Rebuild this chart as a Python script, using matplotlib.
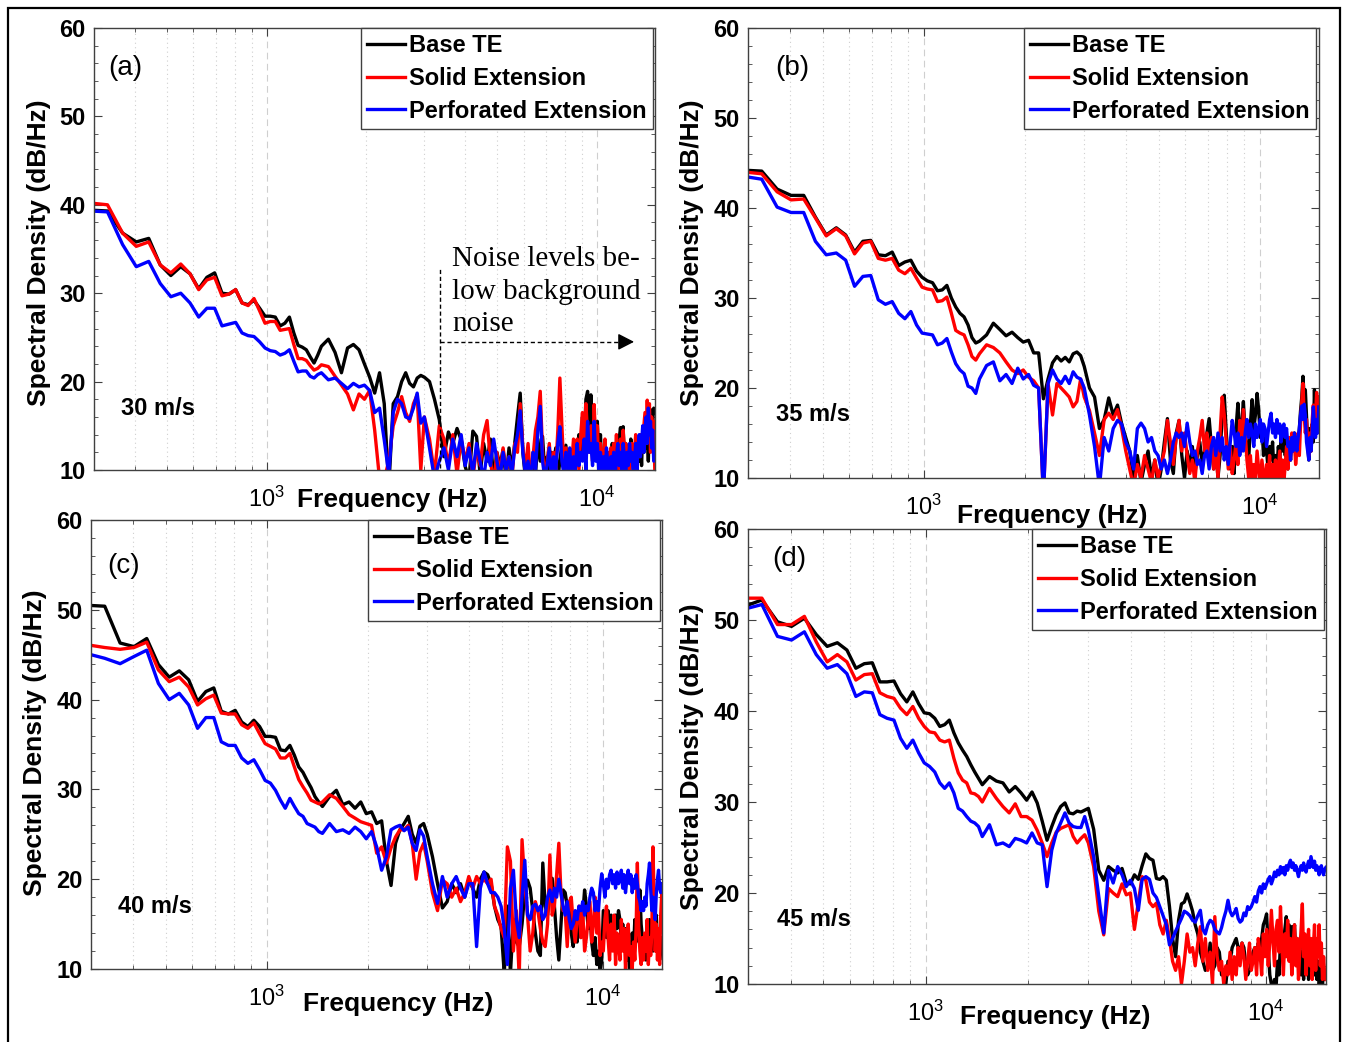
import numpy as np
import matplotlib
matplotlib.use('Agg')
import matplotlib.pyplot as plt
from matplotlib.ticker import AutoMinorLocator, LogLocator, NullFormatter
from matplotlib.patches import Rectangle

plt.rcParams['font.family'] = ['Liberation Sans', 'DejaVu Sans']
plt.rcParams['mathtext.fontset'] = 'custom'
plt.rcParams['mathtext.rm'] = 'Liberation Sans'
plt.rcParams['mathtext.it'] = 'Liberation Sans:italic'
plt.rcParams['mathtext.bf'] = 'Liberation Sans:bold'

# ---------------- data ----------------
BIN_HZ = 75000 / 2048          # FFT bin width of the spectra
bins = np.concatenate([np.arange(8, 41), np.arange(42, 83, 2), np.arange(85, 410, 3)])
freq = bins * BIN_HZ

LEGEND_LABELS = ['Base TE', 'Solid Extension', 'Perforated Extension']
PANEL_LABELS = ['(a)', '(b)', '(c)', '(d)']
SPEEDS = ['30 m/s', '35 m/s', '40 m/s', '45 m/s']
Y_TICKS = [10, 20, 30, 40, 50, 60]
X_LIMITS = (300, 15000)
Y_LIMITS = (10, 60)
NOISE_TEXT = 'Noise levels be-\nlow background\nnoise'
NOISE_F = 3350
ARROW_F = 12960

# ---- (a) 30 m/s ----
a_base = [39.4, 39.3, 36.8, 35.8, 36.2, 33.2, 32.0, 33.0, 32.2, 30.5, 31.8, 32.3, 30.0, 29.9, 30.4, 28.9, 28.7,
          29.2, 28.3, 27.4, 27.4, 27.3, 26.3, 26.6, 27.3, 25.5, 24.1, 23.9, 23.6, 22.8, 22.1, 23.0, 24.0,
          24.8, 23.3, 21.0, 23.8, 24.2, 23.6, 22.0, 20.5, 18.7, 21.0, 17.5, 8.0, 17.5, 18.3, 20.0, 21.0, 19.8,
          19.4, 20.4, 20.7, 20.5,
          20.0, 18.0, 15.7, 11.5, 14.3, 13.0, 14.7, 13.4, 10.4,
          9.0, 14.4, 13.8, 9.5, 13.0, 11.0, 13.5, 9.0, 12.0,
          10.5, 12.3, 9.0, 12.5, 10.0, 13.0, 16.0, 18.7, 12.0,
          9.0, 11.0, 8.0, 12.0, 9.5, 13.5, 11.0, 13.8, 9.5,
          11.5, 9.0, 12.0, 10.5, 12.5, 9.0, 11.0, 13.0, 10.0,
          12.8, 9.5, 12.0, 11.0, 9.0, 12.5, 10.5, 14.0, 12.0,
          16.0, 13.0, 18.0, 18.9, 15.0, 18.5, 13.0, 16.5, 12.0,
          15.5, 11.0, 14.0, 9.5, 12.0, 8.5, 11.0, 9.0, 12.0,
          10.0, 13.0, 10.5, 12.5, 9.0, 11.5, 13.5, 14.8, 12.0,
          14.9, 11.0, 13.0, 10.0, 12.0, 9.5, 13.5, 11.0, 12.5,
          10.0, 12.0, 9.0, 13.0, 11.0, 13.5, 10.5, 14.5, 12.0,
          15.0, 12.5, 14.0, 11.0, 15.5, 13.0, 16.8, 15.5, 17.0, 16.5]
a_solid = [40.2, 40.0, 36.8, 35.3, 35.8, 33.2, 32.3, 33.3, 32.2, 30.4, 31.5, 31.8, 29.7, 29.9, 30.4, 28.9, 28.6,
           29.4, 28.0, 26.6, 26.8, 26.8, 25.8, 25.9, 26.0, 24.2, 22.6, 22.6, 22.4, 21.8, 21.3, 21.5, 21.9,
           21.7, 20.6, 19.6, 18.6, 16.8, 18.6, 18.0, 19.0, 14.5, 9.0, 9.0, 11.0, 15.0, 16.5, 18.3, 16.5, 15.5,
           17.5, 18.5, 10.0, 16.0,
           13.5, 9.5, 15.0, 13.5, 10.5, 14.0, 9.5, 13.5, 11.0,
           13.0, 9.0, 12.5, 10.5, 14.0, 15.6, 11.0, 8.5, 12.0,
           9.5, 12.5, 10.0, 11.5, 9.0, 13.0, 12.0, 17.5, 12.5,
           10.0, 13.0, 9.0, 11.5, 14.5, 16.0, 18.9, 12.0, 9.0,
           11.0, 13.0, 9.5, 12.0, 10.0, 14.5, 20.4, 15.0, 10.0,
           12.5, 9.0, 12.0, 10.5, 13.5, 11.0, 13.5, 10.0, 14.0,
           16.5, 12.0, 17.5, 14.0, 12.0, 15.0, 11.0, 17.4, 12.5,
           15.0, 10.0, 13.0, 9.0, 11.5, 13.5, 9.5, 12.0, 10.5,
           12.5, 9.0, 13.0, 11.0, 14.0, 10.0, 12.0, 13.5, 11.5,
           14.5, 12.0, 13.0, 10.0, 12.5, 9.5, 11.5, 13.0, 10.5,
           12.0, 14.0, 10.0, 13.0, 11.5, 14.0, 12.0, 13.5, 15.0,
           16.5, 13.0, 17.9, 14.0, 17.5, 12.0, 16.0, 13.5, 15.5, 10.0]
a_perf = [39.3, 39.2, 35.5, 33.0, 33.6, 31.1, 29.6, 30.0, 28.9, 27.3, 28.3, 28.3, 26.3, 26.5, 26.7, 25.5, 25.2,
          25.1, 24.5, 23.8, 23.5, 23.4, 23.0, 23.2, 23.6, 22.3, 21.1, 21.2, 21.2, 20.6, 20.4, 20.8, 21.0,
          20.2, 20.4, 19.8, 19.2, 19.8, 19.4, 19.6, 19.0, 16.5, 17.0, 13.4, 9.5, 16.5, 18.0, 17.5, 16.0, 15.8,
          17.0, 18.7, 15.3, 16.0,
          12.5, 9.0, 11.0, 12.5, 10.0, 13.5, 11.5, 14.0, 10.5,
          12.5, 9.5, 13.0, 11.0, 9.0, 12.0, 10.5, 13.5, 11.0,
          9.0, 12.0, 10.0, 11.5, 9.5, 12.5, 14.0, 16.7, 12.0,
          9.5, 11.0, 8.5, 12.0, 10.0, 14.5, 17.2, 11.0, 9.0,
          10.5, 12.5, 9.0, 11.5, 10.0, 13.0, 14.9, 11.0, 9.5,
          12.0, 10.0, 12.5, 9.0, 11.5, 10.0, 13.0, 10.5, 12.0,
          11.0, 13.5, 10.0, 15.5, 12.0, 13.0, 10.5, 15.5, 11.0,
          13.0, 9.5, 12.0, 10.0, 11.5, 9.0, 12.5, 10.5, 9.5,
          11.5, 10.0, 12.0, 9.0, 11.5, 13.0, 10.5, 12.0, 10.0,
          13.0, 11.5, 9.5, 12.0, 10.5, 13.0, 11.0, 12.0, 9.5,
          11.0, 13.0, 10.0, 12.5, 14.0, 11.5, 13.0, 15.0, 12.0,
          14.5, 16.0, 13.0, 17.0, 14.0, 15.5, 12.5, 14.5, 11.0, 12.0]

# ---- (b) 35 m/s ----
b_base = [44.2, 44.1, 42.1, 41.4, 41.4, 39.0, 37.0, 37.8, 37.0, 35.1, 36.3, 36.4, 34.8, 34.7, 35.1, 33.6, 34.0,
          34.2, 33.0, 32.3, 31.9, 31.7, 30.8, 30.9, 31.4, 30.0, 29.0, 28.3, 27.9, 27.0, 25.6, 25.0, 25.2,
          25.9, 27.2, 26.5, 25.8, 26.2, 25.6, 25.1, 25.3, 23.9, 23.9, 18.8, 21.0, 22.8, 23.5, 23.0, 23.4, 22.9,
          23.8, 24.0, 23.6, 22.4,
          20.0, 19.0, 15.5, 16.5, 18.9, 17.0, 18.1, 16.0, 14.5,
          13.0, 10.0, 12.5, 9.5, 11.5, 13.0, 10.0, 12.0, 9.0,
          11.0, 14.0, 16.6, 12.0, 10.5, 15.0, 16.4, 12.5, 10.0,
          13.0, 11.0, 13.5, 10.5, 12.5, 14.0, 11.5, 13.0, 15.0,
          16.6, 13.5, 11.0, 13.5, 10.0, 12.5, 17.0, 19.2, 15.0,
          12.0, 11.0, 13.5, 10.5, 15.5, 18.3, 14.0, 16.0, 18.5,
          15.0, 13.5, 12.0, 16.0, 18.7, 15.5, 17.0, 19.4, 17.5,
          14.5, 16.0, 12.5, 15.0, 13.0, 11.0, 13.5, 12.0, 14.0,
          10.5, 12.5, 11.0, 13.5, 12.0, 14.5, 13.0, 15.0, 12.5,
          14.0, 11.0, 13.5, 12.0, 14.5, 13.0, 15.0, 12.5, 14.0,
          13.0, 15.5, 17.5, 19.0, 21.3, 19.0, 19.8, 17.0, 14.0,
          12.0, 15.5, 13.0, 16.0, 14.0, 19.8, 15.0, 17.0, 18.3, 17.5]
b_solid = [44.0, 43.8, 41.8, 40.9, 41.0, 38.9, 36.9, 37.7, 36.9, 34.9, 36.1, 36.3, 34.4, 34.2, 34.4, 33.1, 32.7,
           33.3, 32.2, 31.2, 31.0, 30.9, 29.6, 29.7, 30.1, 28.3, 26.4, 26.1, 25.9, 24.8, 23.5, 23.1, 23.8,
           24.8, 24.5, 23.9, 22.9, 22.0, 21.6, 22.0, 21.2, 20.8, 20.0, 8.0, 20.5, 17.0, 20.5, 20.0, 19.5, 19.0,
           17.9, 18.5, 21.0, 19.0,
           17.5, 15.0, 12.5, 16.5, 17.2, 16.5, 17.6, 15.5, 13.0,
           11.0, 9.0, 11.5, 10.0, 12.5, 11.0, 9.5, 12.0, 10.0,
           11.5, 13.0, 16.4, 14.0, 11.5, 14.5, 16.4, 13.0, 15.0,
           12.5, 10.5, 12.0, 9.5, 13.0, 14.5, 16.4, 13.0, 15.0,
           12.5, 14.5, 11.0, 13.0, 10.0, 15.0, 19.0, 17.0, 14.0,
           11.0, 13.5, 10.5, 12.0, 14.0, 11.5, 16.4, 13.0, 17.6,
           15.0, 12.0, 10.0, 12.5, 9.5, 11.5, 10.0, 13.0, 11.0,
           9.0, 12.0, 10.5, 9.0, 11.5, 10.0, 12.5, 9.5, 11.5,
           10.0, 12.0, 9.0, 11.0, 13.0, 10.0, 12.0, 9.5, 11.5,
           13.5, 11.0, 14.5, 12.0, 15.0, 13.0, 14.5, 11.5, 13.0,
           15.0, 12.5, 16.0, 18.5, 20.5, 17.0, 15.0, 16.5, 14.0,
           12.5, 15.0, 13.0, 16.5, 18.1, 15.5, 17.0, 19.5, 16.0, 19.0]
b_perf = [43.5, 43.2, 40.1, 39.5, 39.5, 36.3, 34.8, 35.0, 34.2, 31.3, 32.4, 32.5, 29.8, 29.3, 29.6, 28.3, 27.7,
          28.5, 27.0, 26.1, 26.0, 25.9, 24.8, 25.0, 25.5, 24.0, 22.7, 22.0, 21.6, 20.2, 20.0, 19.4, 21.0,
          22.5, 22.9, 20.8, 21.5, 20.5, 22.2, 21.0, 21.5, 20.3, 20.0, 8.0, 20.5, 22.0, 21.0, 20.5, 21.3, 20.5,
          21.8, 21.2, 21.0, 20.0,
          17.0, 13.5, 9.0, 14.5, 13.0, 15.5, 16.4, 16.0, 14.0,
          13.0, 11.0, 15.5, 16.1, 15.5, 14.0, 14.5, 13.0, 12.5,
          11.0, 12.0, 10.5, 12.0, 14.0, 15.0, 14.5, 15.0, 13.5,
          16.1, 14.0, 12.5, 13.0, 11.5, 12.0, 10.5, 12.5, 13.0,
          11.0, 13.5, 14.5, 12.5, 15.0, 13.0, 14.5, 12.0, 13.5,
          11.5, 14.0, 16.4, 15.0, 13.5, 15.0, 12.5, 14.5, 13.0,
          15.0, 16.5, 14.5, 16.0, 15.0, 13.5, 16.0, 14.5, 15.5,
          16.5, 14.0, 16.0, 15.5, 13.5, 15.0, 16.5, 17.2, 15.0,
          16.0, 14.5, 16.5, 15.0, 16.0, 14.0, 15.5, 16.0, 14.5,
          15.5, 13.5, 14.0, 12.0, 14.5, 13.0, 15.0, 14.0, 13.0,
          14.5, 15.5, 17.0, 18.0, 16.5, 18.2, 17.0, 14.0, 13.0,
          12.0, 14.5, 13.0, 15.0, 17.9, 16.0, 14.5, 16.5, 15.0, 17.9]

# ---- (c) 40 m/s ----
c_base = [50.5, 50.4, 46.3, 45.9, 46.8, 43.9, 42.5, 43.2, 42.2, 39.8, 40.9, 41.3, 38.7, 38.4, 38.8, 37.5, 37.0,
          37.7, 37.0, 35.9, 35.9, 35.8, 34.4, 34.3, 34.9, 33.8, 32.5, 31.9, 31.0, 30.2, 29.2, 28.6, 28.1,
          29.2, 29.9, 28.3, 28.6, 27.9, 28.6, 27.3, 27.5, 26.2, 26.5, 22.0, 19.3, 24.0, 25.5, 26.2, 27.0, 25.0,
          24.0, 25.9, 26.2, 25.0,
          22.5, 19.5, 16.8, 17.5, 19.5, 18.5, 19.5, 18.0, 20.0,
          19.0, 18.0, 20.0, 20.8, 20.5, 19.5, 17.0, 15.5, 14.7,
          9.5, 17.0, 9.5, 15.5, 13.0, 12.5, 15.0, 18.5, 19.9,
          19.0, 16.5, 14.0, 12.0, 11.5, 21.8, 17.0, 16.0, 18.5,
          20.1, 17.0, 13.5, 11.0, 15.0, 18.8, 18.5, 17.0, 17.5,
          14.0, 12.5, 15.5, 13.0, 16.5, 13.5, 16.0, 18.8, 17.0,
          14.5, 16.5, 13.0, 11.5, 13.5, 10.5, 12.0, 9.5, 11.0,
          16.5, 15.0, 13.5, 16.5, 14.0, 16.0, 15.0, 13.0, 16.0,
          14.5, 16.5, 15.5, 13.0, 15.0, 12.5, 14.5, 11.0, 13.0,
          9.5, 11.5, 14.0, 12.0, 15.5, 13.0, 16.0, 14.5, 18.8,
          15.0, 13.5, 12.0, 13.0, 11.0, 14.0, 12.0, 15.5, 13.0,
          14.5, 12.0, 15.0, 13.5, 16.0, 12.5, 14.0, 11.0, 12.0, 13.5]
c_solid = [46.1, 45.8, 45.6, 45.8, 46.4, 43.3, 42.0, 42.5, 41.4, 39.4, 40.1, 40.5, 38.5, 38.4, 38.4, 37.2, 36.8,
           37.4, 36.2, 35.1, 34.8, 34.5, 33.5, 33.5, 34.0, 32.5, 31.1, 30.3, 29.6, 28.8, 28.6, 28.4, 28.6,
           29.4, 29.0, 28.1, 27.2, 26.8, 26.4, 26.2, 26.0, 22.9, 23.6, 21.8, 23.5, 24.7, 25.5, 25.5, 26.0, 24.0,
           20.0, 23.0, 24.0, 22.0,
           18.5, 16.5, 19.9, 19.5, 18.0, 19.0, 17.5, 18.5, 20.3,
           19.0, 20.3, 19.5, 20.0, 19.5, 20.0, 17.0, 16.0, 14.5,
           13.5, 23.6, 22.0, 12.0, 16.5, 9.0, 24.4, 19.5, 16.0,
           12.0, 14.0, 17.5, 16.5, 14.5, 13.0, 12.5, 15.0, 22.7,
           16.0, 17.0, 20.5, 24.0, 18.5, 16.5, 16.5, 12.5, 17.5,
           18.0, 15.0, 13.0, 15.5, 17.0, 13.5, 16.5, 12.0, 13.5,
           15.5, 17.5, 13.0, 15.0, 18.0, 14.0, 16.5, 11.5, 13.0,
           12.0, 15.5, 17.0, 13.5, 11.0, 15.0, 12.0, 16.0, 10.5,
           14.0, 13.0, 11.0, 15.5, 12.0, 14.5, 10.0, 13.0, 15.0,
           11.5, 12.5, 10.0, 13.0, 11.0, 14.5, 21.8, 15.0, 12.0,
           10.5, 13.5, 11.0, 14.0, 12.0, 15.5, 10.5, 13.5, 11.5,
           14.0, 23.6, 18.0, 12.0, 15.0, 11.0, 14.5, 10.5, 16.0, 18.5]
c_perf = [45.1, 44.6, 44.0, 44.8, 45.5, 41.8, 40.0, 40.7, 39.4, 36.8, 38.0, 38.0, 35.3, 34.9, 34.9, 33.5, 32.9,
          33.3, 32.2, 31.0, 30.7, 29.9, 28.8, 27.9, 29.0, 28.1, 27.3, 27.0, 26.2, 26.0, 25.8, 25.3, 25.1,
          26.2, 25.3, 25.5, 25.1, 25.8, 25.3, 24.5, 25.3, 23.6, 21.0, 22.5, 25.5, 25.8, 26.0, 25.4, 25.8, 24.0,
          23.2, 25.5, 24.8, 22.5,
          19.5, 17.3, 20.3, 18.0, 19.5, 20.3, 19.0, 18.0, 19.5,
          19.5, 12.5, 19.0, 20.8, 19.5, 18.5, 18.5, 18.0, 17.0,
          14.5, 10.5, 19.0, 21.0, 15.5, 13.5, 18.0, 22.1, 16.0,
          15.5, 17.0, 17.2, 16.5, 17.0, 15.5, 16.0, 18.0, 18.8,
          17.5, 19.0, 18.0, 20.0, 18.5, 17.0, 16.0, 17.5, 15.5,
          14.5, 15.0, 16.5, 15.5, 17.0, 16.5, 17.5, 16.0, 17.0,
          16.5, 18.0, 19.0, 18.5, 16.5, 17.5, 16.5, 19.0, 20.6,
          19.5, 18.0, 20.0, 19.0, 20.5, 21.0, 19.5, 20.5, 19.0,
          20.8, 19.5, 20.0, 21.0, 19.0, 20.5, 18.5, 20.0, 21.0,
          19.5, 20.5, 18.5, 20.0, 19.0, 20.5, 19.5, 18.0, 17.5,
          16.5, 17.5, 16.5, 18.0, 17.0, 19.5, 20.5, 21.8, 19.0,
          16.5, 18.0, 16.5, 15.5, 18.5, 20.0, 21.0, 19.0, 18.5, 19.5]

# ---- (d) 45 m/s ----
d_base = [51.5, 52.2, 49.8, 49.3, 50.2, 48.4, 47.1, 47.5, 46.7, 44.7, 45.2, 45.3, 43.2, 43.2, 43.3, 41.9, 41.0,
          42.1, 40.8, 39.8, 39.7, 39.2, 38.3, 38.5, 39.0, 37.6, 36.5, 35.7, 35.0, 34.1, 33.3, 32.6, 31.9,
          32.8, 32.3, 32.1, 31.1, 31.7, 31.0, 30.2, 31.1, 29.9, 27.9, 25.8, 27.3, 28.6, 29.5, 29.9, 28.8, 28.7,
          29.0, 28.9, 29.1, 29.3,
          27.0, 22.5, 21.4, 22.9, 22.5, 22.2, 22.7, 21.1, 21.0,
          22.0, 21.5, 23.0, 24.3, 23.8, 23.6, 21.6, 21.5, 21.8,
          21.4, 18.5, 15.0, 13.0, 17.0, 18.8, 19.0, 19.9, 19.0,
          18.0, 16.5, 15.5, 13.5, 12.5, 11.5, 12.0, 14.5, 11.5,
          12.0, 14.0, 13.5, 11.0, 11.5, 10.0, 12.5, 12.5, 14.0,
          14.5, 15.0, 14.0, 13.5, 14.5, 14.0, 12.0, 11.0, 11.5,
          12.5, 13.5, 14.0, 12.5, 14.5, 13.0, 15.0, 16.5, 17.0,
          17.7, 14.0, 11.0, 10.0, 9.0, 10.5, 9.5, 12.5, 11.0,
          14.5, 15.0, 14.0, 16.0, 17.4, 15.5, 16.5, 15.0, 16.3,
          15.0, 16.5, 13.0, 15.0, 12.5, 14.5, 11.0, 13.5, 10.5,
          14.0, 12.0, 14.0, 10.5, 13.0, 11.5, 13.5, 12.5, 11.0,
          13.0, 10.5, 12.5, 9.5, 11.0, 12.0, 10.0, 11.5, 10.5, 11.0]
d_solid = [52.4, 52.4, 49.5, 49.5, 50.4, 47.6, 45.4, 46.2, 45.4, 43.4, 44.0, 44.1, 42.0, 41.6, 41.4, 40.3, 39.6,
           40.5, 39.2, 38.3, 37.7, 37.6, 36.8, 36.6, 36.8, 34.8, 33.2, 32.4, 32.1, 31.0, 30.9, 30.6, 30.0,
           31.5, 30.4, 29.5, 28.8, 29.8, 28.4, 28.4, 28.0, 26.9, 25.5, 24.0, 25.5, 26.7, 27.1, 27.3, 27.5, 26.2,
           25.5, 26.0, 26.4, 25.5,
           22.9, 18.0, 15.4, 20.5, 20.0, 19.6, 21.0, 19.8, 20.0,
           16.0, 19.0, 21.8, 21.4, 19.0, 18.5, 18.9, 16.5, 15.5,
           17.0, 15.0, 12.5, 11.5, 13.0, 10.0, 12.5, 15.5, 13.5,
           14.0, 12.0, 14.5, 16.3, 12.5, 15.0, 11.5, 13.5, 10.0,
           17.4, 13.0, 11.5, 12.5, 10.0, 12.0, 11.0, 13.5, 10.5,
           13.0, 11.0, 14.0, 12.0, 14.5, 13.0, 10.5, 12.5, 14.5,
           11.5, 12.5, 14.0, 11.0, 15.0, 13.5, 11.0, 15.5, 13.0,
           16.0, 12.0, 14.5, 18.1, 15.0, 12.0, 16.0, 17.0, 13.5,
           18.5, 14.0, 11.0, 15.5, 13.0, 17.0, 12.5, 15.0, 11.0,
           14.5, 16.5, 12.0, 15.0, 10.5, 13.5, 16.0, 18.8, 13.0,
           15.5, 11.0, 14.0, 16.0, 12.0, 15.0, 10.5, 14.0, 16.5,
           11.5, 15.0, 13.0, 16.5, 12.0, 14.5, 10.5, 13.0, 11.0, 10.5]
d_perf = [51.2, 51.7, 48.2, 47.8, 48.7, 46.2, 44.7, 45.1, 44.1, 41.6, 42.1, 42.0, 39.6, 39.2, 39.0, 37.0, 35.9,
          36.8, 35.4, 34.3, 33.9, 33.3, 32.1, 31.5, 32.1, 31.0, 29.3, 29.0, 28.4, 27.9, 27.7, 27.3, 26.2,
          27.5, 25.3, 25.5, 25.1, 26.0, 25.8, 25.5, 26.6, 25.5, 25.3, 20.7, 24.7, 26.6, 27.7, 28.8, 27.7, 27.3,
          27.2, 27.2, 28.4, 26.9,
          24.0, 19.6, 15.6, 22.5, 21.1, 22.9, 22.0, 20.7, 21.4,
          20.5, 18.1, 21.5, 21.8, 21.5, 20.0, 19.5, 18.5, 17.5,
          16.5, 14.3, 15.0, 15.8, 16.5, 17.2, 18.0, 17.8, 17.5,
          17.0, 16.8, 17.5, 18.1, 16.0, 15.5, 16.5, 17.0, 16.8,
          16.0, 15.7, 15.5, 16.2, 17.2, 18.0, 19.2, 18.0, 17.5,
          17.8, 18.3, 17.2, 16.8, 17.0, 17.8, 17.5, 18.5, 18.2,
          18.5, 19.0, 19.6, 19.0, 20.2, 20.7, 20.0, 21.0, 20.5,
          21.0, 21.5, 21.8, 21.0, 21.5, 22.3, 21.8, 22.5, 22.0,
          22.9, 22.2, 22.8, 22.0, 23.0, 22.5, 23.2, 23.6, 22.8,
          23.3, 22.5, 23.0, 22.4, 21.8, 22.6, 23.0, 22.5, 23.3,
          22.6, 22.3, 23.0, 23.5, 22.8, 24.0, 23.4, 22.8, 23.5,
          22.5, 23.0, 22.6, 22.0, 22.8, 23.0, 22.3, 22.0, 22.6, 22.8]

PANELS = [(a_base, a_solid, a_perf), (b_base, b_solid, b_perf),
          (c_base, c_solid, c_perf), (d_base, d_solid, d_perf)]
COLORS = ['#000000', '#ff0000', '#0000ff']

# ---------------- layout (pixels: left, top, right, bottom) ----------------
W, H = 1346, 1042
LAYOUT = [
    dict(rect=(94, 28, 655, 470), leg_right=0.9964, xlab=(0.531, -0.068), ylab=(-0.098, 0.492),
         plabel=(0.025, 0.9095), speed=(0.048, 0.140)),
    dict(rect=(748, 28, 1319, 478), leg_right=0.9947, xlab=(0.532, -0.084), ylab=(-0.098, 0.501),
         plabel=(0.047, 0.911), speed=(0.049, 0.142)),
    dict(rect=(91, 520, 662, 969), leg_right=0.9965, xlab=(0.538, -0.078), ylab=(-0.098, 0.504),
         plabel=(0.028, 0.898), speed=(0.047, 0.140)),
    dict(rect=(748, 529, 1326, 984), leg_right=0.9965, xlab=(0.531, -0.073), ylab=(-0.097, 0.500),
         plabel=(0.0415, 0.934), speed=(0.050, 0.141)),
]

fig = plt.figure(figsize=(W / 100, H / 100), dpi=100)
fig.patch.set_facecolor('white')

SPINE_C = '#404040'
GRID_C = '#cfcfcf'

for i, (lay, curves) in enumerate(zip(LAYOUT, PANELS)):
    l, t, r, b = lay['rect']
    ax = fig.add_axes([l / W, 1 - b / H, (r - l) / W, (b - t) / H])
    lines = []
    for vals, col in zip(curves, COLORS):
        ln, = ax.plot(freq, vals, color=col, lw=2.4)
        lines.append(ln)
    ax.set_xscale('log')
    ax.set_xlim(*X_LIMITS)
    ax.set_ylim(*Y_LIMITS)
    ax.set_yticks(Y_TICKS)
    ax.set_yticklabels([str(v) for v in Y_TICKS], fontweight='bold', fontsize=17)
    ax.yaxis.set_minor_locator(AutoMinorLocator(5))
    ax.xaxis.set_major_locator(LogLocator(base=10))
    ax.xaxis.set_minor_locator(LogLocator(base=10, subs=np.arange(2, 10)))
    ax.xaxis.set_minor_formatter(NullFormatter())
    ax.tick_params(which='both', direction='in', top=True, right=True, color=SPINE_C)
    ax.tick_params(which='major', length=6, width=0.8)
    ax.tick_params(which='minor', length=3, width=0.6)
    ax.tick_params(axis='x', which='major', labelsize=17, pad=12)
    ax.tick_params(axis='y', which='major', pad=6)
    ax.grid(True, which='major', axis='x', linestyle=(0, (6, 4)), color=GRID_C, lw=0.8)
    ax.grid(True, which='minor', axis='x', linestyle=(0, (1, 3)), color=GRID_C, lw=0.8)
    for s in ax.spines.values():
        s.set_color(SPINE_C)
        s.set_linewidth(1.0)

    ax.set_xlabel('Frequency (Hz)', fontsize=19, fontweight='bold', va='center')
    ax.xaxis.set_label_coords(*lay['xlab'])
    ax.set_ylabel('Spectral Density (dB/Hz)', fontsize=19, fontweight='bold', va='center')
    ax.yaxis.set_label_coords(*lay['ylab'])

    ax.text(lay['plabel'][0], lay['plabel'][1], PANEL_LABELS[i], transform=ax.transAxes,
            fontsize=20, ha='left', va='center')
    ax.text(lay['speed'][0], lay['speed'][1], SPEEDS[i], transform=ax.transAxes,
            fontsize=17, fontweight='bold', ha='left', va='center')

    leg = ax.legend(lines, LEGEND_LABELS, loc='upper right', bbox_to_anchor=(lay['leg_right'], 1.0),
                    borderaxespad=0.0, prop={'weight': 'bold', 'size': 17}, handlelength=1.6,
                    handletextpad=0.2, labelspacing=0.42, borderpad=0.25, fancybox=False,
                    framealpha=1.0, edgecolor=SPINE_C)
    leg.get_frame().set_linewidth(1.0)

    if i == 0:
        ax.text(0.638, 0.403, NOISE_TEXT, transform=ax.transAxes,
                family=['Liberation Serif', 'DejaVu Serif'], fontsize=21,
                ha='left', va='center', linespacing=1.32)
        ax.plot([NOISE_F, NOISE_F], [10.2, 32.8], color='k', lw=1.0, ls=(0, (3, 2)))
        ax.plot([NOISE_F, ARROW_F * 0.95], [24.5, 24.5], color='k', lw=1.0, ls=(0, (3, 2)))
        ax.annotate('', xy=(ARROW_F, 24.5), xytext=(ARROW_F * 0.94, 24.5),
                    arrowprops=dict(arrowstyle='-|>,head_length=0.7,head_width=0.36',
                                    color='k', lw=1.0, shrinkA=0, shrinkB=0, mutation_scale=14))

# outer frame
fig.patches.append(Rectangle((8 / W, -0.01), (1340 - 8) / W, 1 - 8 / H + 0.01,
                             transform=fig.transFigure, fill=False, lw=1.6, edgecolor='k'))

fig.savefig('out.png', dpi=100)
